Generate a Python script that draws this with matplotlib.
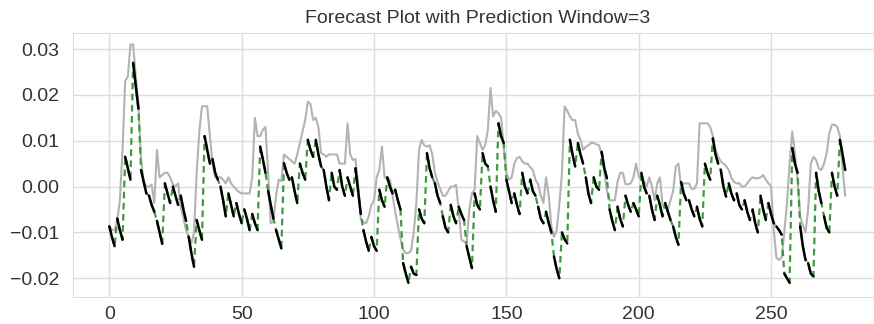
import numpy as np
import matplotlib
matplotlib.use("Agg")
import matplotlib.pyplot as plt
import seaborn as sns

sns.set_style("whitegrid")
plt.rcParams['font.family'] = ['Liberation Sans', 'DejaVu Sans']

title = "Forecast Plot with Prediction Window=3"
window = 3

# true series (gray)
true_data = [
    -0.0085, -0.0095, -0.0095, -0.0075, -0.003, 0.008, 0.023, 0.024, 0.031, 0.031,
    0.024, 0.018, 0.006, 0.001, 0.0, 0.0, 0.0004, -0.0036, 0.008, 0.002,
    0.0025, 0.003, 0.003, 0.002, 0.0005, 0.0, 0.0007, -0.0044, -0.007, -0.0095,
    -0.011, -0.0124, -0.010, 0.003, 0.012, 0.0175, 0.0175, 0.0175, 0.011, 0.005,
    0.002, 0.002, 0.002, 0.0015, 0.0007, 0.002, 0.0007, 0.0, -0.0007, -0.0012,
    -0.0015, -0.0015, -0.0015, -0.0015, 0.002, 0.015, 0.011, 0.011, 0.0124, 0.013,
    0.003, -0.008, -0.0076, -0.002, 0.0015, 0.0012, 0.007, 0.0065, 0.006, 0.0055,
    0.005, 0.007, 0.0095, 0.012, 0.0145, 0.0185, 0.018, 0.0145, 0.015, 0.013,
    0.0073, 0.007, 0.0065, 0.007, 0.007, 0.007, 0.007, 0.005, 0.005, 0.005,
    0.0138, 0.007, 0.0058, 0.006, 0.0005, -0.007, -0.0078, -0.008, -0.0065, -0.004,
    -0.003, 0.002, 0.0036, 0.0087, 0.002, 0.0018, 0.0015, -0.002, -0.0055, -0.0085,
    -0.0115, -0.0138, -0.0145, -0.0145, -0.014, -0.010, -0.0036, 0.008, 0.0102, 0.009,
    0.0087, 0.009, 0.007, 0.003, 0.001, -0.0005, -0.002, -0.002, -0.001, 0.0,
    0.0, 0.0004, -0.005, -0.0116, -0.012, -0.0124, -0.005, -0.0015, -0.0007, 0.011,
    0.0095, 0.008, 0.009, 0.0124, 0.0215, 0.0153, 0.0165, 0.016, 0.015, 0.0087,
    0.003, 0.0015, 0.002, 0.005, 0.0062, 0.0065, 0.0055, 0.005, 0.005, 0.0042,
    0.0036, 0.0015, 0.0005, -0.002, -0.0036, 0.002, -0.002, -0.0087, -0.011, -0.0095,
    -0.004, 0.003, 0.0175, 0.0165, 0.0153, 0.0145, 0.0145, 0.0115, 0.0102, 0.008,
    0.0087, 0.009, 0.0095, 0.0095, 0.0092, 0.009, 0.007, 0.003, -0.001, -0.003,
    -0.003, -0.003, 0.001, 0.003, 0.003, 0.0005, 0.0005, 0.0007, 0.002, 0.005,
    0.0022, 0.0015, 0.0012, 0.0, 0.002, 0.0, -0.003, 0.0007, 0.002, -0.004,
    -0.0045, -0.005, -0.003, -0.001, 0.0044, 0.005, 0.0, 0.0007, 0.0007, 0.0007,
    -0.0005, -0.0005, 0.0007, 0.0138, 0.0138, 0.0138, 0.0138, 0.013, 0.011, 0.008,
    0.0065, 0.0055, 0.005, 0.0045, 0.0036, 0.002, 0.001, 0.0007, 0.0007, 0.0,
    0.0, 0.0007, 0.0015, 0.002, 0.0018, 0.0018, 0.002, 0.0025, 0.0015, 0.0007,
    0.0, -0.0095, -0.0155, -0.016, -0.0155, -0.010, -0.0036, 0.005, 0.012, 0.0073,
    0.0015, -0.0065, -0.0085, -0.010, -0.005, 0.005, 0.0065, 0.0058, 0.004, 0.0036,
    0.005, 0.0073, 0.0116, 0.0135, 0.0135, 0.013, 0.011, 0.004, -0.002,
]

# predictions, one triplet per window of 3 steps
predictions = [
    [-0.0087, -0.011, -0.013], [-0.007, -0.0095, -0.0116], [0.0065, 0.004, 0.0015],
    [0.027, 0.022, 0.017], [0.0036, 0.001, -0.0015], [-0.002, -0.004, -0.0055],
    [-0.0075, -0.010, -0.0125], [0.0007, -0.0015, -0.0036], [0.0, -0.002, -0.004],
    [-0.002, -0.005, -0.0075], [-0.011, -0.0145, -0.0175], [-0.0073, -0.0095, -0.0116],
    [0.011, 0.008, 0.005], [0.006, 0.003, 0.0015], [0.0, -0.003, -0.0065],
    [-0.0015, -0.004, -0.0065], [-0.0036, -0.006, -0.008], [-0.005, -0.007, -0.0095],
    [-0.006, -0.008, -0.0095], [0.0087, 0.006, 0.003], [-0.001, -0.004, -0.007],
    [-0.0095, -0.0115, -0.0135], [0.0051, 0.003, 0.0015], [0.002, -0.001, -0.0036],
    [0.005, 0.003, 0.0015], [0.0102, 0.008, 0.0065], [0.0102, 0.007, 0.0044],
    [0.0036, 0.0, -0.003], [0.003, 0.0, -0.0007], [0.0036, 0.0, -0.002],
    [0.002, 0.0, -0.002], [0.004, -0.001, -0.006], [-0.0095, -0.012, -0.014],
    [-0.011, -0.013, -0.014], [-0.0007, -0.003, -0.0044], [0.002, 0.0, -0.0015],
    [-0.0007, -0.003, -0.005], [-0.0167, -0.019, -0.021], [-0.0175, -0.019, -0.0193],
    [-0.005, -0.007, -0.008], [0.0073, 0.004, 0.002], [0.0007, -0.002, -0.0036],
    [-0.0065, -0.009, -0.010], [-0.004, -0.0065, -0.008], [-0.0044, -0.006, -0.0073],
    [-0.013, -0.0155, -0.0178], [-0.0015, -0.004, -0.005], [0.0073, 0.005, 0.0044],
    [0.0, -0.003, -0.0055], [0.0138, 0.011, 0.0095], [0.0015, -0.001, -0.0036],
    [-0.0015, -0.004, -0.006], [0.003, 0.0, -0.0015], [0.0015, -0.001, -0.002],
    [-0.0044, -0.007, -0.008], [-0.0055, -0.008, -0.010], [-0.0153, -0.018, -0.020],
    [-0.010, -0.0115, -0.0124], [0.0102, 0.007, 0.0044], [0.0095, 0.007, 0.005],
    [0.002, -0.0015, -0.0036], [0.002, 0.0, -0.0007], [0.0076, 0.004, 0.0018],
    [-0.005, -0.0075, -0.0095], [-0.0044, -0.007, -0.0087], [-0.002, -0.004, -0.0055],
    [-0.0036, -0.005, -0.0065], [0.003, 0.0, -0.0015], [-0.002, -0.005, -0.0073],
    [-0.002, -0.004, -0.0065], [-0.0036, -0.0055, -0.0073], [-0.0087, -0.011, -0.0127],
    [0.001, -0.0015, -0.003], [-0.003, -0.005, -0.0065], [-0.0044, -0.007, -0.0087],
    [0.005, 0.003, 0.0015], [0.0105, 0.007, 0.005], [0.0036, 0.0, -0.0022],
    [0.0007, -0.0015, -0.003], [-0.0015, -0.004, -0.005], [-0.003, -0.0055, -0.0073],
    [-0.005, -0.008, -0.010], [-0.002, -0.005, -0.0073], [-0.0036, -0.006, -0.008],
    [-0.0087, -0.0095, -0.0105], [-0.019, -0.020, -0.021], [0.0084, 0.005, 0.003],
    [-0.0087, -0.013, -0.016], [-0.0167, -0.019, -0.0196], [0.003, -0.001, -0.0036],
    [-0.0065, -0.009, -0.010], [0.003, 0.0, -0.002], [0.0102, 0.007, 0.0036],
]

fig = plt.figure(figsize=(8.74, 3.24), dpi=100)
ax = fig.add_axes([72.5 / 874, 27 / 324, 809.5 / 874, 264 / 324])

x_true = np.arange(len(true_data))
ax.plot(x_true, true_data, color='#b3b3b3', lw=1.5)

flat = np.concatenate(predictions)
x_pred = np.arange(len(flat))
ax.plot(x_pred, flat, '--', color='#3f9a3f', lw=1.6, dashes=(3, 2))

for i, seg in enumerate(predictions):
    xs = x_pred[i * window:(i + 1) * window]
    ax.plot(xs, seg, color='black', lw=1.8)

ax.set_xlim(-13.9, 291.9)
ax.set_ylim(-0.0241, 0.0335)
ax.set_xticks([0, 50, 100, 150, 200, 250])
ax.set_yticks([-0.02, -0.01, 0.0, 0.01, 0.02, 0.03])
ax.set_yticklabels(['\u22120.02', '\u22120.01', '0.00', '0.01', '0.02', '0.03'])
ax.tick_params(labelsize=14, colors='#333333')
ax.tick_params(axis='y', pad=6)
ax.tick_params(axis='x', pad=3)
ax.grid(color='#dddddd', lw=1)
for s in ax.spines.values():
    s.set_color('#dddddd')
ax.set_title(title, fontsize=14, color='#333333', pad=7)

fig.savefig('out.png', dpi=100)
